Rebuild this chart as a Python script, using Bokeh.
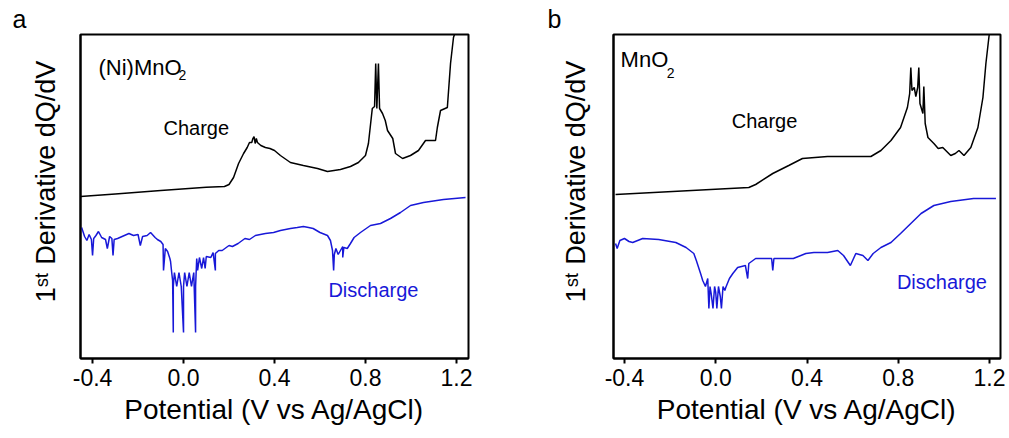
from bokeh.plotting import figure
from bokeh.models import Range1d, FixedTicker, PrintfTickFormatter, Label
from bokeh.layouts import row
from bokeh.embed import file_html
from bokeh.resources import INLINE

FONT = "Liberation Sans"

# ---------------- data ----------------
tick_values = [-0.4, 0.0, 0.4, 0.8, 1.2]
x_title = "Potential (V vs Ag/AgCl)"
y_title = "\u00a0\u00a0\u00a0\u00a01\u02e2\u1d57 Derivative dQ/dV"

# Panel a : (Ni)MnO2
charge_a_x = [-0.453, -0.30, -0.10, 0.10, 0.18, 0.20, 0.22, 0.242, 0.264, 0.28, 0.29, 0.30,
              0.305, 0.31, 0.315, 0.32, 0.325, 0.34, 0.36, 0.38, 0.40, 0.426, 0.47, 0.527,
              0.589, 0.633, 0.69, 0.734, 0.769, 0.80, 0.813, 0.83, 0.84, 0.845, 0.85, 0.857,
              0.862, 0.875, 0.887, 0.897, 0.92, 0.932, 0.963, 0.998, 1.033, 1.064, 1.108,
              1.116, 1.13, 1.16, 1.174, 1.187, 1.20, 1.21]
charge_a_y = [162, 164.6, 168, 171.3, 172, 174, 181, 195, 205, 211, 216, 216,
              220, 222, 215, 220, 216, 213, 211, 210, 208, 203, 196, 193,
              190, 187, 189, 192, 196, 203, 215, 250, 252, 295, 250, 295,
              250, 245, 238, 228, 220, 205, 200, 203, 208, 218, 218,
              231, 248, 251, 295, 321, 330, 340]

discharge_a_x = [-0.448, -0.435, -0.425, -0.415, -0.405, -0.40, -0.395, -0.385, -0.374, -0.36,
                 -0.343, -0.335, -0.325, -0.315, -0.31, -0.305, -0.29, -0.27, -0.24, -0.22,
                 -0.20, -0.19, -0.18, -0.16, -0.145, -0.125, -0.115, -0.10, -0.09, -0.088,
                 -0.08, -0.07, -0.06, -0.057, -0.052, -0.048, -0.045, -0.045, -0.04, -0.03,
                 -0.02, -0.01, 0.0, 0.0, 0.005, 0.015, 0.025, 0.035, 0.045, 0.053,
                 0.053, 0.058, 0.062, 0.07, 0.08, 0.088, 0.095, 0.10, 0.12, 0.13,
                 0.14, 0.14, 0.155, 0.17, 0.20, 0.215, 0.24, 0.27, 0.29, 0.316,
                 0.36, 0.396, 0.426, 0.47, 0.50, 0.527, 0.55, 0.57, 0.60, 0.633,
                 0.646, 0.655, 0.66, 0.663, 0.67, 0.68, 0.70, 0.70, 0.705, 0.72,
                 0.734, 0.75, 0.778, 0.822, 0.866, 0.91, 0.954, 0.998, 1.055, 1.143, 1.24]
discharge_a_y = [131, 122, 118, 124, 119, 103, 120, 123, 127, 121,
                 119, 110, 122, 120, 103, 119, 120, 122, 125, 123,
                 124, 113, 122, 123, 126, 121, 119, 117, 114, 88,
                 110, 107, 100, 97, 86, 78, 26, 72, 86, 72,
                 86, 72, 26, 72, 86, 72, 86, 72, 86, 26,
                 72, 100, 88, 101, 90, 101, 90, 102, 101, 106,
                 88, 105, 108, 108, 113, 112, 115, 120, 119, 123,
                 125, 126, 128, 130, 131, 132, 131, 130, 126, 123,
                 118, 108, 88, 104, 110, 104, 112, 101, 111, 110,
                 115, 121, 126, 133, 135, 140, 146, 153, 156, 159, 161]

# Panel b : MnO2
charge_b_x = [-0.439, 0.145, 0.175, 0.25, 0.32, 0.38, 0.49, 0.58, 0.68, 0.724, 0.768, 0.81,
              0.84, 0.85, 0.855, 0.86, 0.87, 0.877, 0.885, 0.89, 0.895, 0.908, 0.912, 0.918,
              0.93, 0.956, 0.975, 0.995, 1.03, 1.05, 1.066, 1.088, 1.118, 1.149, 1.171,
              1.184, 1.197, 1.205]
charge_b_y = [164, 171, 174, 185, 193, 200, 202, 202, 202, 208, 218, 231,
              251, 265, 291, 268, 271, 262, 271, 291, 255, 245, 272, 235,
              221, 215, 210, 211, 203, 205, 208, 203, 211, 231, 261,
              295, 321, 335]

discharge_b_x = [-0.439, -0.432, -0.42, -0.40, -0.38, -0.364, -0.32, -0.25, -0.20, -0.175,
                 -0.13, -0.096, -0.085, -0.075, -0.065, -0.057, -0.045, -0.035, -0.03, -0.025,
                 -0.02, -0.012, -0.005, 0.0, 0.005, 0.012, 0.02, 0.025, 0.032, 0.04,
                 0.044, 0.06, 0.075, 0.096, 0.13, 0.14, 0.145, 0.175, 0.22, 0.245,
                 0.25, 0.255, 0.276, 0.34, 0.395, 0.43, 0.49, 0.535, 0.56, 0.59,
                 0.614, 0.645, 0.667, 0.69, 0.724, 0.768, 0.81, 0.855, 0.90, 0.956,
                 1.03, 1.13, 1.228]
discharge_b_y = [115, 110, 118, 120, 117, 116, 120, 119, 117, 116,
                 111, 105, 98, 91, 84, 78, 72, 80, 50, 72,
                 65, 50, 72, 66, 50, 72, 62, 50, 72, 68,
                 71, 80, 85, 91, 93, 80, 95, 100, 100, 100,
                 88, 100, 100, 100, 105, 106, 106, 108, 103, 93,
                 105, 103, 98, 105, 111, 116, 125, 135, 145, 153,
                 157, 160, 160]

BLUE = "#1818d8"


def make_panel(width, b_left, b_right, xr, cx, cy, dx, dy, letter, letter_off, sample,
               sample_pos, sub_pos, charge_pos, dis_pos, ylab_standoff):
    p = figure(width=width, height=436, x_range=Range1d(*xr), y_range=Range1d(0, 324),
               output_backend="svg", toolbar_location=None,
               min_border_left=b_left, min_border_right=b_right,
               min_border_top=34, min_border_bottom=78)
    p.background_fill_color = "white"
    p.border_fill_color = "white"
    p.outline_line_color = "black"
    p.outline_line_width = 2
    p.xgrid.visible = False
    p.ygrid.visible = False

    # panel letter as a left-aligned title
    p.title.text = letter
    p.title.align = "left"
    p.title.offset = letter_off
    p.title.standoff = 4
    p.title.text_font = FONT
    p.title.text_font_size = "25px"
    p.title.text_font_style = "normal"
    p.title.text_color = "black"

    ay = p.yaxis[0]
    ay.ticker = FixedTicker(ticks=[])
    ay.major_tick_line_color = None
    ay.minor_tick_line_color = None
    ay.axis_line_color = "black"
    ay.axis_line_width = 2
    ay.axis_label = y_title
    ay.axis_label_text_font = FONT
    ay.axis_label_text_font_size = "27px"
    ay.axis_label_text_font_style = "normal"
    ay.axis_label_text_color = "black"
    ay.axis_label_standoff = ylab_standoff

    ax = p.xaxis[0]
    ax.ticker = FixedTicker(ticks=tick_values)
    ax.formatter = PrintfTickFormatter(format="%.1f")
    ax.axis_line_color = "black"
    ax.axis_line_width = 2
    ax.major_tick_line_color = "black"
    ax.major_tick_line_width = 2
    ax.major_tick_in = 0
    ax.major_tick_out = 5
    ax.minor_tick_line_color = None
    ax.major_label_text_font = FONT
    ax.major_label_text_font_size = "23px"
    ax.major_label_text_color = "black"
    ax.major_label_standoff = 5
    ax.axis_label = x_title
    ax.axis_label_text_font = FONT
    ax.axis_label_text_font_size = "28px"
    ax.axis_label_text_font_style = "normal"
    ax.axis_label_text_color = "black"
    ax.axis_label_standoff = 5

    p.line(cx, cy, color="black", line_width=1.5)
    p.line(dx, dy, color=BLUE, line_width=1.5)

    def lab(text, x, y, size, color="black"):
        p.add_layout(Label(x=x, y=y, text=text,
                           text_font=FONT, text_font_size=size, text_color=color,
                           text_baseline="middle", text_align="left"))

    lab(sample, sample_pos[0], sample_pos[1], "22px")
    lab("2", sub_pos[0], sub_pos[1], "14px")
    lab("Charge", charge_pos[0], charge_pos[1], "20px")
    lab("Discharge", dis_pos[0], dis_pos[1], "20px", color=BLUE)
    return p


pa = make_panel(520, 80, 52, (-0.453, 1.253), charge_a_x, charge_a_y,
                discharge_a_x, discharge_a_y, "a", -68, "(Ni)MnO",
                (-0.374, 291), (-0.022, 284), (-0.088, 231), (0.637, 69), 20)
pb = make_panel(489, 93, 9, (-0.448, 1.248), charge_b_x, charge_b_y,
                discharge_b_x, discharge_b_y, "b", -66, "MnO",
                (-0.417, 299), (-0.215, 286), (0.070, 238), (0.794, 77), 23)

layout = row(pa, pb)
open("out.html", "w").write(file_html(layout, INLINE))
